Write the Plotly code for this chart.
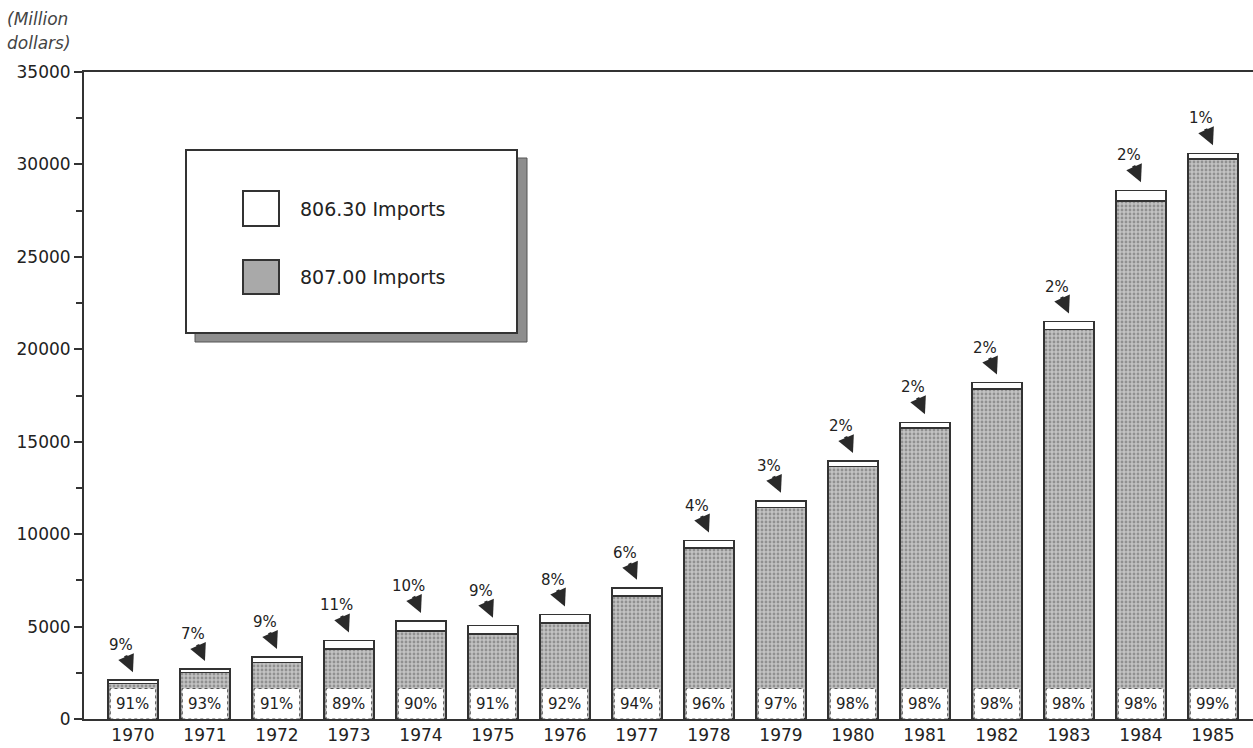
import plotly.graph_objects as go

# Annual imports, million dollars
years = [1970, 1971, 1972, 1973, 1974, 1975, 1976, 1977,
         1978, 1979, 1980, 1981, 1982, 1983, 1984, 1985]
imports_806 = [190, 190, 300, 470, 530, 450, 450, 430,
               390, 350, 280, 320, 360, 430, 570, 310]
imports_807 = [1910, 2510, 3050, 3780, 4770, 4600, 5200, 6670,
               9260, 11450, 13670, 15730, 17840, 21070, 28030, 30290]
y_ticks = [0, 5000, 10000, 15000, 20000, 25000, 30000, 35000]
y_tick_labels = ["0", "5000", "10000", "15000", "20000", "25000", "30000", "35000"]

FONT = "DejaVu Sans"
INK = "#222"
W, H = 1253, 748
ML, MR, MT, MB = 84, 0, 72, 29
PW, PH = W - ML - MR, H - MT - MB
BAR_W = 0.69


def px(xp):
    return (xp - ML) / PW


def py(yp):
    return (H - MB - yp) / PH


fig = go.Figure()
fig.add_trace(go.Bar(
    x=years, y=imports_807, name="807.00 imports", width=BAR_W,
    marker=dict(color="#c2c2c2",
                pattern=dict(shape=".", fgcolor="#5e5e5e", size=4, solidity=0.4),
                line=dict(color="#333", width=1.6)),
))
fig.add_trace(go.Bar(
    x=years, y=imports_806, name="806.30 imports", width=BAR_W,
    marker=dict(color="white", line=dict(color="#333", width=1.6)),
))

shapes = []
annotations = []
box_top = 1650
for yr, a, b in zip(years, imports_806, imports_807):
    total = a + b
    share_806 = round(100 * a / total)
    share_807 = round(100 * b / total)
    # white label box at the foot of each bar
    shapes.append(dict(type="rect", xref="x", yref="y",
                       x0=yr - BAR_W / 2 + 0.03, x1=yr + BAR_W / 2 - 0.03,
                       y0=0, y1=box_top, fillcolor="white",
                       line=dict(color="#555", width=1, dash="dot"), layer="above"))
    annotations.append(dict(x=yr, y=box_top / 2, xref="x", yref="y",
                            text=f"{share_807}%", showarrow=False,
                            font=dict(family=FONT, size=15, color=INK)))
    # arrow label pointing to the 806.30 segment
    annotations.append(dict(x=yr, y=total, xref="x", yref="y",
                            text=f"{share_806}%", showarrow=True,
                            ax=-12, ay=-27, yshift=8, standoff=0,
                            arrowhead=2, arrowsize=1, arrowwidth=3.4,
                            arrowcolor="#2a2a2a",
                            font=dict(family=FONT, size=15, color=INK)))

# legend panel with drop shadow
shapes.append(dict(type="rect", xref="paper", yref="paper",
                   x0=px(195), x1=px(527), y0=py(342), y1=py(158),
                   fillcolor="#8e8e8e", line=dict(color="#555", width=1)))
shapes.append(dict(type="rect", xref="paper", yref="paper",
                   x0=px(186), x1=px(517), y0=py(333), y1=py(150),
                   fillcolor="white", line=dict(color="#333", width=2)))
shapes.append(dict(type="rect", xref="paper", yref="paper",
                   x0=px(243), x1=px(279), y0=py(226), y1=py(191),
                   fillcolor="white", line=dict(color="#333", width=2)))
shapes.append(dict(type="rect", xref="paper", yref="paper",
                   x0=px(243), x1=px(279), y0=py(294), y1=py(260),
                   fillcolor="#a9a9a9", line=dict(color="#333", width=2)))
annotations.append(dict(x=px(298), y=py(209), xref="paper", yref="paper",
                        xanchor="left", yanchor="middle", showarrow=False,
                        text="806.30 Imports",
                        font=dict(family=FONT, size=19, color=INK)))
annotations.append(dict(x=px(298), y=py(277), xref="paper", yref="paper",
                        xanchor="left", yanchor="middle", showarrow=False,
                        text="807.00 Imports",
                        font=dict(family=FONT, size=19, color=INK)))

# unit label
for text, ypix in [("<i>(Million</i>", 19), ("<i>dollars)</i>", 43)]:
    annotations.append(dict(x=px(5), y=py(ypix), xref="paper", yref="paper",
                            showarrow=False, text=text,
                            xanchor="left", yanchor="middle",
                            font=dict(family=FONT, size=17, color="#444")))

fig.update_layout(
    width=W, height=H,
    margin=dict(l=ML, r=MR, t=MT, b=MB),
    barmode="stack", showlegend=False,
    plot_bgcolor="white", paper_bgcolor="white",
    shapes=shapes, annotations=annotations,
    xaxis=dict(range=[1969.32, 1985.556], tickvals=years,
               ticktext=[str(y) for y in years],
               showline=True, linecolor="#333", linewidth=2, mirror=True,
               showgrid=False, zeroline=False, ticks="",
               tickfont=dict(family=FONT, size=17, color=INK)),
    yaxis=dict(range=[0, 35000], tickvals=y_ticks, ticktext=y_tick_labels,
               showline=True, linecolor="#333", linewidth=2,
               showgrid=False, zeroline=False,
               ticks="outside", ticklen=8, tickwidth=2, tickcolor="#333",
               minor=dict(dtick=2500, ticks="outside", ticklen=6,
                          tickwidth=2, tickcolor="#333"),
               tickfont=dict(family=FONT, size=17, color=INK)),
)

fig.write_html("out.html")
